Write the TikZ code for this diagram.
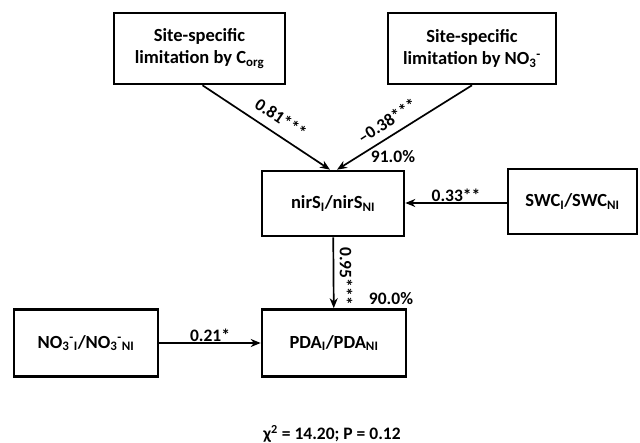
\documentclass[tikz,border=0pt]{standalone}
\usepackage{fontspec}
\setmainfont{Carlito}
\usepackage{tikz}
\usetikzlibrary{positioning, arrows.meta, calc}

\begin{document}
\begin{tikzpicture}[
    x=1pt, y=-1pt,
    font=\bfseries\fontsize{18.5}{22}\selectfont,
    var/.style={rectangle, draw, line width=2.6pt, inner sep=0pt, align=center},
    arr/.style={-{Stealth[length=10pt, width=8pt]}, line width=1.7pt},
    coef/.style={font=\bfseries\fontsize{17.5}{20}\selectfont, inner sep=1pt}
]
\useasboundingbox (0,0) rectangle (640,443);

\node[var, minimum width=171pt, minimum height=71pt] (corg) at (199.5,48.5) {Site-specific\\limitation by C\textsubscript{org}};
\node[var, minimum width=168pt, minimum height=71pt] (nlim) at (472,48.5)   {Site-specific\\limitation by NO\textsubscript{3}\textsuperscript{-}};
\node[var, minimum width=142pt, minimum height=65pt] (nir)  at (333,203.5)  {nirS\textsubscript{I}/nirS\textsubscript{NI}};
\node[var, minimum width=129pt, minimum height=65pt] (swc)  at (572.5,201.5) {SWC\textsubscript{I}/SWC\textsubscript{NI}};
\node[var, minimum width=144pt, minimum height=67pt] (pda)  at (334,343)    {PDA\textsubscript{I}/PDA\textsubscript{NI}};
\node[var, minimum width=144pt, minimum height=67pt] (nit)  at (86,343)     {NO\textsubscript{3}\textsuperscript{-}\textsubscript{I}/NO\textsubscript{3}\textsuperscript{-}\textsubscript{NI}};

\draw[arr] ([xshift=3pt]corg.south) -- ([xshift=-3pt]nir.north);
\draw[arr] (nlim.south) -- ([xshift=4pt]nir.north);
\draw[arr] (swc.west |- 0,203) -- node[coef, above] {0.33**} (nir.east |- 0,203);
\draw[arr] (nir) -- (pda);
\draw[arr] (nit) -- node[coef, above] {0.21*} (pda);

\node[coef, rotate=-34]  (lpos) at (281,118) {0.81***};
\node[coef, rotate=33]   (lneg) at (387,121) {--0.38***};
\node[coef, rotate=-90]  (lnp)  at (346,276) {0.95***};
\node[coef] (rnir) at (393,157) {91.0\%};
\node[coef] (rpda) at (391,299) {90.0\%};
\node[coef] (fit)  at (332,434) {χ\textsuperscript{2} = 14.20; P = 0.12};
\end{tikzpicture}
\end{document}
